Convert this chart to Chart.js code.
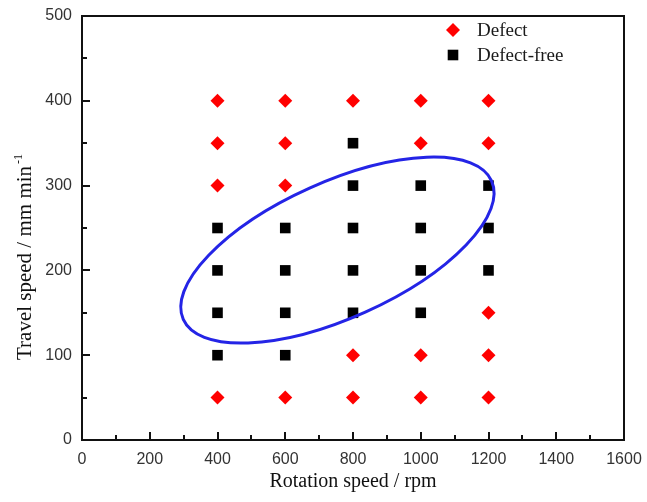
<!DOCTYPE html>
<html>
<head>
<meta charset="utf-8">
<script src="https://cdn.jsdelivr.net/npm/chart.js@4/dist/chart.umd.min.js"></script>
<style>
  html, body { margin: 0; padding: 0; background: #fff; }
  canvas { display: block; }
</style>
</head>
<body>
<canvas id="chart" width="647" height="502"></canvas>
<script>
// Welding trials: rotation speed (rpm) vs. travel speed (mm/min)
const defectRpm   = [400, 400, 400, 400, 600, 600, 600, 600, 800, 800, 800, 1000, 1000, 1000, 1000, 1200, 1200, 1200, 1200, 1200];
const defectSpeed = [400, 350, 300, 50,  400, 350, 300, 50,  400, 100, 50,  400,  350,  100,  50,   400,  350,  150,  100,  50];

const soundRpm   = [400, 400, 400, 400, 600, 600, 600, 600, 800, 800, 800, 800, 800, 1000, 1000, 1000, 1000, 1200, 1200, 1200];
const soundSpeed = [250, 200, 150, 100, 250, 200, 150, 100, 350, 300, 250, 200, 150, 300,  250,  200,  150,  300,  250,  200];

const xTickValues = [0, 200, 400, 600, 800, 1000, 1200, 1400, 1600];
const yTickValues = [0, 100, 200, 300, 400, 500];

const seriesNames = ['Defect', 'Defect-free'];
const xTitle = 'Rotation speed / rpm';
const yTitleMain = 'Travel speed / mm min';
const yTitleSup = '-1';

// Process window outline: centre in data units, radii in pixels, tilt in degrees
const processWindow = { cx: 754, cy: 224, rx: 169, ry: 68, tilt: 24.2, color: '#2424e6', width: 3 };

const toPoints = (xs, ys) => xs.map((x, i) => ({ x: x, y: ys[i] }));

// Closed frame with inward major/minor ticks on the bottom and left sides
const framePlugin = {
  id: 'frame',
  beforeDatasetsDraw(chart) {
    const { ctx, chartArea: a, scales: { x, y } } = chart;
    ctx.save();
    ctx.strokeStyle = '#111';
    ctx.lineWidth = 2;
    ctx.strokeRect(a.left, a.top, a.right - a.left, a.bottom - a.top);
    ctx.beginPath();
    for (let v = 0; v <= 1600; v += 100) {
      const px = Math.round(x.getPixelForValue(v));
      const len = v % 200 === 0 ? 8 : 5;
      ctx.moveTo(px, a.bottom);
      ctx.lineTo(px, a.bottom - len);
    }
    for (let v = 0; v <= 500; v += 50) {
      const py = Math.round(y.getPixelForValue(v));
      const len = v % 100 === 0 ? 8 : 5;
      ctx.moveTo(a.left, py);
      ctx.lineTo(a.left + len, py);
    }
    ctx.stroke();

    // y-axis title with superscript exponent
    ctx.fillStyle = '#111';
    ctx.translate(31, a.bottom - 80);
    ctx.rotate(-Math.PI / 2);
    ctx.textBaseline = 'alphabetic';
    ctx.textAlign = 'left';
    ctx.font = '21px "Liberation Serif", "Times New Roman", serif';
    ctx.fillText(yTitleMain, 0, 0);
    const w = ctx.measureText(yTitleMain).width;
    ctx.font = '12px "Liberation Serif", "Times New Roman", serif';
    ctx.fillText(yTitleSup, w + 2, -9);
    ctx.restore();
  },
  afterDatasetsDraw(chart) {
    const { ctx, scales: { x, y } } = chart;
    const e = processWindow;
    ctx.save();
    ctx.beginPath();
    ctx.ellipse(x.getPixelForValue(e.cx), y.getPixelForValue(e.cy), e.rx, e.ry, -e.tilt * Math.PI / 180, 0, Math.PI * 2);
    ctx.strokeStyle = e.color;
    ctx.lineWidth = e.width;
    ctx.stroke();
    ctx.restore();
  },
  afterDraw(chart) {
    // Legend in the upper right of the plot area
    const { ctx, chartArea: a } = chart;
    ctx.save();
    chart.data.datasets.forEach((ds, i) => {
      const mx = a.right - 171;
      const my = a.top + 14 + i * 25;
      ctx.fillStyle = ds.backgroundColor;
      Chart.helpers.drawPoint(ctx, { pointStyle: ds.pointStyle, radius: ds.pointRadius, rotation: 0, borderWidth: 0 }, mx, my);
      ctx.fillStyle = '#1a1a1a';
      ctx.font = '19px "Liberation Serif", "Times New Roman", serif';
      ctx.textBaseline = 'alphabetic';
      ctx.textAlign = 'left';
      ctx.fillText(ds.label, a.right - 147, my + 6);
    });
    ctx.restore();
  }
};

const tickFont = { family: '"Liberation Sans", Arial, sans-serif', size: 16 };

new Chart(document.getElementById('chart'), {
  type: 'scatter',
  data: {
    datasets: [
      {
        label: seriesNames[0],
        data: toPoints(defectRpm, defectSpeed),
        pointStyle: 'rectRot',
        pointRadius: 7,
        backgroundColor: '#ff0000',
        borderWidth: 0
      },
      {
        label: seriesNames[1],
        data: toPoints(soundRpm, soundSpeed),
        pointStyle: 'rect',
        pointRadius: 7.5,
        backgroundColor: '#000000',
        borderWidth: 0
      }
    ]
  },
  options: {
    responsive: false,
    devicePixelRatio: 1,
    animation: false,
    layout: { padding: { top: 16, right: 23, left: 0, bottom: 0 } },
    plugins: { legend: { display: false }, tooltip: { enabled: false } },
    elements: { point: { hoverRadius: 7 } },
    scales: {
      x: {
        type: 'linear',
        min: 0,
        max: 1600,
        afterBuildTicks: (s) => { s.ticks = xTickValues.map(v => ({ value: v })); },
        afterFit: (s) => { s.height = 62; s.paddingLeft = 0; s.paddingRight = 0; },
        grid: { display: true, drawOnChartArea: false, drawTicks: false, color: 'transparent' },
        border: { display: false },
        ticks: { padding: 10, color: '#333', font: tickFont, maxRotation: 0, callback: (v) => String(v) },
        title: {
          display: true,
          text: xTitle,
          color: '#111',
          font: { family: '"Liberation Serif", "Times New Roman", serif', size: 20 },
          padding: { top: 0, bottom: 8 }
        }
      },
      y: {
        type: 'linear',
        min: 0,
        max: 500,
        afterBuildTicks: (s) => { s.ticks = yTickValues.map(v => ({ value: v })); },
        afterFit: (s) => { s.width = 82; s.paddingTop = 0; s.paddingBottom = 0; },
        grid: { display: true, drawOnChartArea: false, drawTicks: false, color: 'transparent' },
        border: { display: false },
        ticks: { padding: 10, color: '#333', font: tickFont, callback: (v) => String(v) }
      }
    }
  },
  plugins: [framePlugin]
});
</script>
</body>
</html>
